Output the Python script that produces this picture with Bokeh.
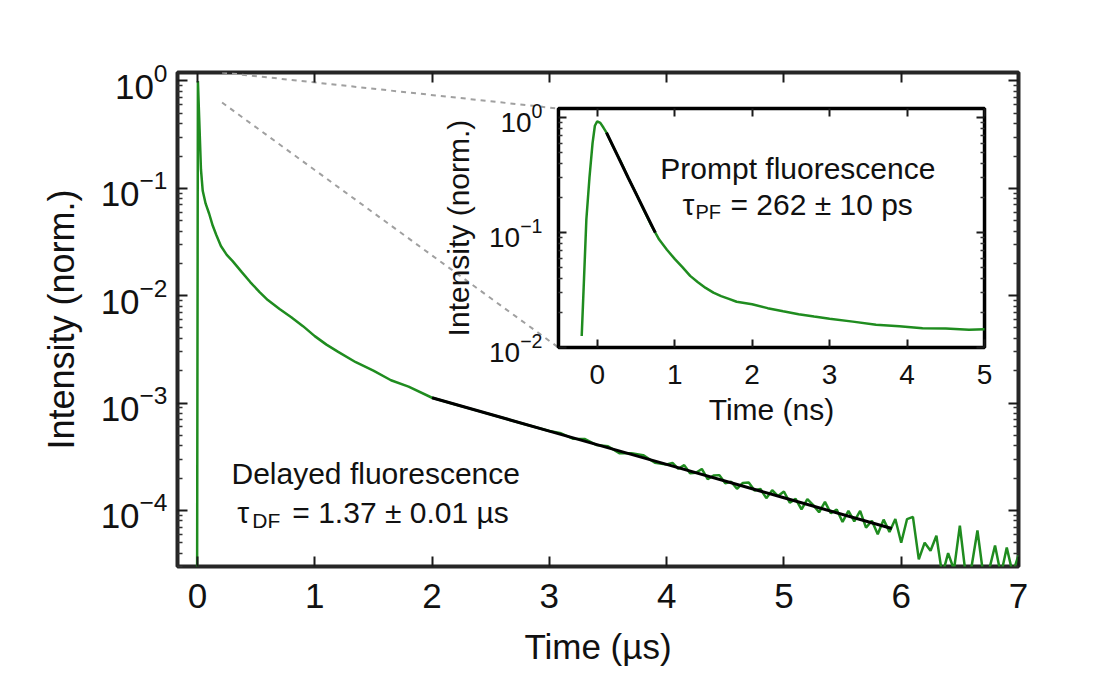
from bokeh.plotting import figure
from bokeh.models import (Range1d, LinearAxis, LogAxis, LogScale, LinearScale, FixedTicker,
                          CustomJSTickFormatter, Label)
from bokeh.embed import file_html
from bokeh.resources import INLINE
import math

FONT = "Liberation Sans"
GREEN = "#1f8c1f"

# ---------------- data (main panel: time in µs, normalised intensity) ----------------
T_US = [-0.003, 0.004, 0.015, 0.03, 0.045, 0.07, 0.1, 0.13, 0.16, 0.2, 0.25, 0.3, 0.38, 0.45,
        0.53, 0.6, 0.7, 0.8, 0.9, 1.0, 1.1, 1.2, 1.35, 1.5, 1.65, 1.8, 2.0, 2.2, 2.4, 2.6, 2.8,
        3.0, 3.1, 3.2, 3.3, 3.4, 3.5, 3.6, 3.7, 3.8, 3.9, 4.0,
        4.05, 4.1, 4.15, 4.2, 4.25, 4.3, 4.35, 4.4, 4.45, 4.5, 4.55, 4.6, 4.65, 4.7, 4.75, 4.8,
        4.85, 4.9, 4.95, 5.0, 5.05, 5.1, 5.15, 5.2, 5.25, 5.3, 5.35, 5.4, 5.45, 5.5, 5.55, 5.6,
        5.65, 5.7, 5.75, 5.8, 5.85, 5.9, 5.95, 6.0, 6.05, 6.1, 6.15, 6.2, 6.25, 6.3, 6.35, 6.4,
        6.45, 6.5, 6.55, 6.6, 6.65, 6.7, 6.75, 6.8, 6.85, 6.9, 6.95, 7.0]
I_MAIN = [2.0e-5, 1.0, 0.45, 0.15, 0.095, 0.072, 0.058, 0.045, 0.037, 0.029, 0.024, 0.021, 0.0165,
          0.0134, 0.0108, 0.0091, 0.0075, 0.0063, 0.0052, 0.0042, 0.0035, 0.003, 0.0024, 0.002,
          0.00163, 0.00142, 0.00112, 9.7e-4, 8.4e-4, 7.3e-4, 6.3e-4,
          5.48e-4, 5.22e-4, 4.65e-4, 4.63e-4, 4.07e-4, 3.96e-4, 3.40e-4, 3.40e-4, 3.27e-4,
          2.78e-4, 2.68e-4,
          2.77e-4, 2.44e-4, 2.64e-4, 2.22e-4, 2.24e-4, 2.43e-4, 1.95e-4, 2.11e-4, 2.13e-4,
          1.79e-4, 1.85e-4, 1.59e-4, 1.80e-4, 1.82e-4, 1.53e-4, 1.58e-4, 1.30e-4, 1.54e-4,
          1.36e-4, 1.50e-4, 1.18e-4, 1.28e-4, 1.02e-4, 1.27e-4, 1.12e-4, 9.6e-5, 1.20e-4,
          9.4e-5, 1.02e-4, 7.8e-5, 9.9e-5, 7.9e-5, 9.9e-5, 6.9e-5, 8.0e-5, 6.0e-5, 8.2e-5,
          6.3e-5, 8.3e-5, 5.0e-5, 8.3e-5, 8.7e-5, 3.5e-5, 5.0e-5, 4.2e-5, 5.8e-5, 2.5e-5,
          4.0e-5, 2.8e-5, 7.2e-5, 2.5e-5, 3.0e-5, 6.5e-5, 2.5e-5, 2.8e-5, 4.7e-5, 2.5e-5,
          4.5e-5, 2.6e-5, 3.8e-5]
FIT_T_US = [2.0, 3.0, 4.0, 5.0, 5.92]
FIT_I_MAIN = [1.12e-3, 5.48e-4, 2.68e-4, 1.31e-4, 6.78e-5]

# ---------------- data (inset: time in ns) ----------------
T_NS = [-0.2, -0.17, -0.14, -0.1, -0.06, -0.03, 0.0, 0.04, 0.08, 0.12, 0.2, 0.3, 0.4, 0.5, 0.6,
        0.7, 0.8, 0.9, 1.0, 1.1, 1.2, 1.3, 1.4, 1.5, 1.6, 1.7, 1.8, 2.0, 2.2, 2.4, 2.6, 2.8, 3.0,
        3.3, 3.6, 3.9, 4.2, 4.5, 4.8, 5.0]
I_INSET = [0.0126, 0.04, 0.13, 0.3, 0.6, 0.85, 0.93, 0.9, 0.82, 0.74, 0.57, 0.42, 0.30, 0.22,
           0.158, 0.115, 0.087, 0.071, 0.059, 0.05, 0.042, 0.037, 0.033, 0.030, 0.028, 0.0265,
           0.025, 0.0238, 0.022, 0.0207, 0.0195, 0.0186, 0.0178, 0.0168, 0.0158, 0.0153, 0.0147,
           0.0146, 0.0143, 0.0144]
FIT_T_NS = [0.12, 0.4, 0.75]
FIT_I_INSET = [0.74, 0.30, 0.10]

X_TICKS = [0, 1, 2, 3, 4, 5, 6, 7]
Y_TICKS = [1e-4, 1e-3, 1e-2, 1e-1, 1.0]
INSET_X_TICKS = [0, 1, 2, 3, 4, 5]
INSET_Y_TICKS = [0.01, 0.1, 1.0]

X_RANGE = (-0.17, 7.0)
Y_RANGE = (3.0e-5, 1.2)
INSET_X = (-0.5, 5.0)
INSET_Y = (0.01, 1.2)
# placement of the inset box inside the main frame (fractions of frame width / height)
INSET_FX = (0.453, 0.9596)
INSET_FY = (0.4433, 0.927)
# zoom marker origin in main data coordinates
ZOOM_T = 0.21
ZOOM_I = (0.63, 1.2)

# extra ranges so that the inset occupies its box in the frame
span_x = (INSET_X[1] - INSET_X[0]) / (INSET_FX[1] - INSET_FX[0])
ix0 = INSET_X[0] - INSET_FX[0] * span_x
ly0, ly1 = math.log10(INSET_Y[0]), math.log10(INSET_Y[1])
span_y = (ly1 - ly0) / (INSET_FY[1] - INSET_FY[0])
iy0 = ly0 - INSET_FY[0] * span_y

# inset corners in main coordinates
m_ly0, m_ly1 = math.log10(Y_RANGE[0]), math.log10(Y_RANGE[1])
inset_left_main = X_RANGE[0] + INSET_FX[0] * (X_RANGE[1] - X_RANGE[0])
inset_bot_main = 10 ** (m_ly0 + INSET_FY[0] * (m_ly1 - m_ly0))
inset_top_main = 10 ** (m_ly0 + INSET_FY[1] * (m_ly1 - m_ly0))

p = figure(width=1091, height=680, x_range=Range1d(*X_RANGE), y_range=Range1d(*Y_RANGE),
           y_axis_type="log", output_backend="svg", toolbar_location=None,
           min_border_left=177, min_border_right=73, min_border_top=72, min_border_bottom=114,
           outline_line_color="#262626", outline_line_width=4)
p.extra_x_ranges = {"ix": Range1d(ix0, ix0 + span_x)}
p.extra_y_ranges = {"iy": Range1d(10 ** iy0, 10 ** (iy0 + span_y))}
p.extra_x_scales = {"ix": LinearScale()}
p.extra_y_scales = {"iy": LogScale()}
p.grid.visible = False
p.background_fill_color = "white"

MINOR_MAIN = [k * 10.0 ** e for e in range(-5, 0) for k in range(2, 10)]
MINOR_INSET = [k * 10.0 ** e for e in range(-2, 0) for k in range(2, 10)]
EMPTY = CustomJSTickFormatter(code="return ''")


def style(ax, tick_size, label_size, tin, minor_in):
    ax.axis_line_color = None
    ax.major_tick_in = tin
    ax.major_tick_out = 0
    ax.minor_tick_in = minor_in
    ax.minor_tick_out = 0
    ax.major_tick_line_color = "#1a1a1a"
    ax.major_tick_line_width = 2
    ax.minor_tick_line_color = "#333333"
    ax.minor_tick_line_width = 1.5
    ax.major_label_text_font = FONT
    ax.major_label_text_font_size = tick_size
    ax.major_label_text_color = "#111111"
    ax.axis_label_text_font = FONT
    ax.axis_label_text_font_size = label_size
    ax.axis_label_text_font_style = "normal"
    ax.axis_label_text_color = "#111111"


xa = p.xaxis[0]
xa.ticker = FixedTicker(ticks=X_TICKS)
xa.axis_label = "Time (µs)"
style(xa, "35px", "35px", 10, 0)
xa.major_label_standoff = 17
xa.axis_label_standoff = 16

ya = p.yaxis[0]
ya.ticker = FixedTicker(ticks=Y_TICKS, minor_ticks=MINOR_MAIN)
ya.axis_label = "Intensity (norm.)"
style(ya, "35px", "36px", 10, 5)
ya.major_label_standoff = 10
ya.axis_label_standoff = 16

top = LinearAxis(fixed_location=Y_RANGE[1], ticker=FixedTicker(ticks=X_TICKS), formatter=EMPTY)
style(top, "10px", "10px", 10, 0)
p.add_layout(top, "above")
right = LogAxis(fixed_location=X_RANGE[1], ticker=FixedTicker(ticks=Y_TICKS, minor_ticks=MINOR_MAIN),
                formatter=EMPTY)
style(right, "10px", "10px", 10, 5)
p.add_layout(right, "right")

# main curves
p.line(T_US, I_MAIN, line_color=GREEN, line_width=2.5)
p.line(FIT_T_US, FIT_I_MAIN, line_color="black", line_width=3)

# zoom marker lines
p.line([ZOOM_T, inset_left_main], [ZOOM_I[1], inset_top_main], line_color="#a0a0a0",
       line_width=2, line_dash="5 5")
p.line([ZOOM_T, inset_left_main], [ZOOM_I[0], inset_bot_main], line_color="#a0a0a0",
       line_width=2, line_dash="5 5")

# inset box and curves
p.quad(left=[INSET_X[0]], right=[INSET_X[1]], bottom=[INSET_Y[0]], top=[INSET_Y[1]],
       x_range_name="ix", y_range_name="iy", fill_color="white", line_color="black", line_width=3.5)
p.line(T_NS, I_INSET, x_range_name="ix", y_range_name="iy", line_color=GREEN, line_width=2.5)
p.line(FIT_T_NS, FIT_I_INSET, x_range_name="ix", y_range_name="iy", line_color="black", line_width=3)

ib = LinearAxis(x_range_name="ix", y_range_name="iy", fixed_location=INSET_Y[0], bounds=INSET_X,
                ticker=FixedTicker(ticks=INSET_X_TICKS), axis_label="Time (ns)")
style(ib, "28px", "30px", 8, 0)
ib.major_label_standoff = 17
ib.axis_label_standoff = 6
p.add_layout(ib, "below")

il = LogAxis(x_range_name="ix", y_range_name="iy", fixed_location=INSET_X[0], bounds=INSET_Y,
             ticker=FixedTicker(ticks=INSET_Y_TICKS, minor_ticks=MINOR_INSET),
             axis_label="Intensity (norm.)")
style(il, "28px", "30px", 8, 4)
il.major_label_standoff = 16
il.axis_label_standoff = 11
p.add_layout(il, "left")

it = LinearAxis(x_range_name="ix", y_range_name="iy", fixed_location=INSET_Y[1], bounds=INSET_X,
                ticker=FixedTicker(ticks=INSET_X_TICKS), formatter=EMPTY)
style(it, "10px", "10px", 8, 0)
p.add_layout(it, "above")
ir = LogAxis(x_range_name="ix", y_range_name="iy", fixed_location=INSET_X[1], bounds=INSET_Y,
             ticker=FixedTicker(ticks=INSET_Y_TICKS, minor_ticks=MINOR_INSET), formatter=EMPTY)
style(ir, "10px", "10px", 8, 4)
p.add_layout(ir, "right")


def label(text, x, y, size, align="left", dx=0, dy=0, rng=None):
    kw = dict(x=x, y=y, text=text, text_font=FONT, text_font_size=size, text_align=align,
              text_baseline="alphabetic", text_color="#111111", x_offset=dx, y_offset=dy)
    if rng:
        kw.update(x_range_name="ix", y_range_name="iy")
    p.add_layout(Label(**kw))


# main annotation
label("Delayed fluorescence", 1.52, 2.21e-4, "30px", align="center")
label("τ", 0.34, 9.6e-5, "30px")
label("DF", 0.34, 9.6e-5, "21px", dx=15, dy=-8)
label("= 1.37 ± 0.01 µs", 0.34, 9.6e-5, "30px", dx=55)

# inset annotation
label("Prompt fluorescence", 2.59, 0.363, "30px", align="center", rng=True)
label("τ", 1.10, 0.174, "30px", rng=True)
label("PF", 1.10, 0.174, "20px", dx=13, dy=-7, rng=True)
label("= 262 ± 10 ps", 1.10, 0.174, "30px", dx=48, rng=True)

open("out.html", "w").write(file_html(p, INLINE))
